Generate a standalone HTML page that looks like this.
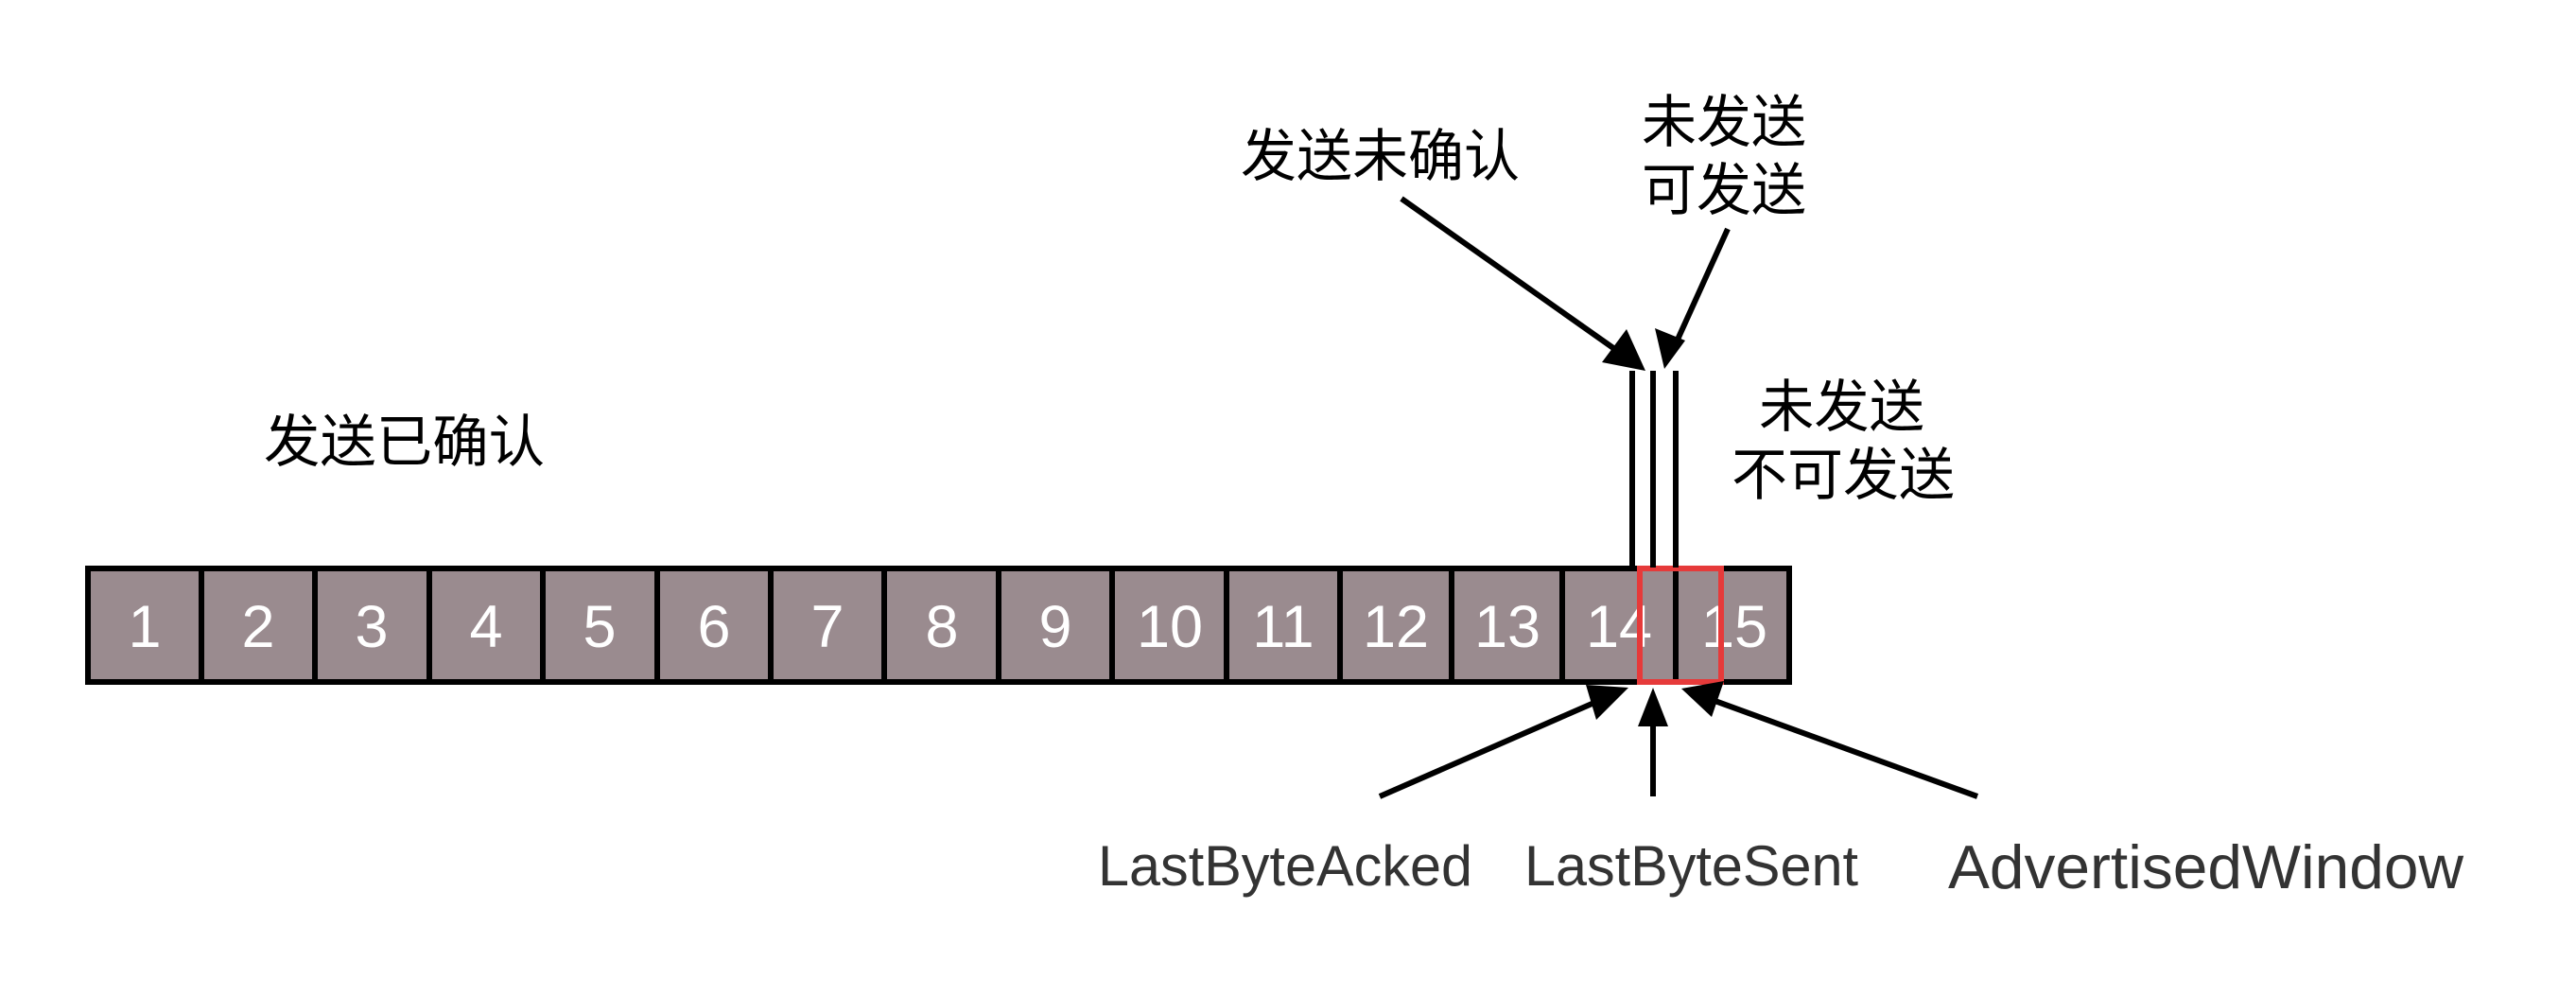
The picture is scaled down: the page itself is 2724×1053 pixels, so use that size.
<!DOCTYPE html>
<html><head><meta charset="utf-8"><style>
html,body{margin:0;padding:0;background:#fff;width:2724px;height:1053px;overflow:hidden}
svg text{font-family:"Liberation Sans","Noto Sans CJK SC",sans-serif}
</style></head><body>
<svg width="2724" height="1053" viewBox="0 0 2724 1053" xmlns="http://www.w3.org/2000/svg">
<g stroke="#000" stroke-width="6" fill="#9a8b8f">
<rect x="93" y="601" width="1799" height="120"/>
</g>
<g stroke="#000" stroke-width="6">
<line x1="213" y1="601" x2="213" y2="721"/>
<line x1="333" y1="601" x2="333" y2="721"/>
<line x1="454" y1="601" x2="454" y2="721"/>
<line x1="574" y1="601" x2="574" y2="721"/>
<line x1="695" y1="601" x2="695" y2="721"/>
<line x1="815" y1="601" x2="815" y2="721"/>
<line x1="935" y1="601" x2="935" y2="721"/>
<line x1="1056" y1="601" x2="1056" y2="721"/>
<line x1="1176" y1="601" x2="1176" y2="721"/>
<line x1="1297" y1="601" x2="1297" y2="721"/>
<line x1="1417" y1="601" x2="1417" y2="721"/>
<line x1="1535" y1="601" x2="1535" y2="721"/>
<line x1="1652" y1="601" x2="1652" y2="721"/>
<line x1="1772" y1="601" x2="1772" y2="721"/>
</g>
<g fill="#fff" font-size="63" text-anchor="middle">
<text x="153" y="684">1</text><text x="273" y="684">2</text><text x="393" y="684">3</text>
<text x="514" y="684">4</text><text x="634" y="684">5</text><text x="755" y="684">6</text>
<text x="875" y="684">7</text><text x="996" y="684">8</text><text x="1116" y="684">9</text>
<text x="1237" y="684">10</text><text x="1357" y="684">11</text><text x="1476" y="684">12</text>
<text x="1594" y="684">13</text><text x="1712" y="684">14</text><text x="1834" y="684">15</text>
</g>
<rect x="1734" y="601" width="86" height="120" fill="none" stroke="#e63a3a" stroke-width="6"/>
<g stroke="#000" stroke-width="6">
<line x1="1726" y1="392" x2="1726" y2="600"/>
<line x1="1748" y1="392" x2="1748" y2="600"/>
<line x1="1772" y1="392" x2="1772" y2="600"/>
</g>
<g stroke="#000" stroke-width="6" fill="none">
<line x1="1482" y1="210" x2="1716" y2="375"/>
<line x1="1827" y1="242" x2="1769" y2="370"/>
<line x1="1459" y1="842" x2="1704" y2="735"/>
<line x1="1748" y1="842" x2="1748" y2="748"/>
<line x1="2091" y1="842" x2="1797" y2="735"/>
</g>
<g fill="#000">
<polygon points="1740,392 1694,383 1720,348"/>
<polygon points="1760,390 1750,347 1782,360"/>
<polygon points="1722,727 1688,761 1677,724"/>
<polygon points="1748,727 1732,768 1764,768"/>
<polygon points="1778,728 1823,720 1810,758"/>
</g>
<g font-size="60" fill="#000">
<text x="279" y="488" textLength="297" lengthAdjust="spacingAndGlyphs">发送已确认</text>
<text x="1312" y="186" textLength="295" lengthAdjust="spacingAndGlyphs">发送未确认</text>
<text x="1736" y="150" textLength="174" lengthAdjust="spacingAndGlyphs">未发送</text>
<text x="1736" y="222" textLength="174" lengthAdjust="spacingAndGlyphs">可发送</text>
<text x="1860" y="451" textLength="175" lengthAdjust="spacingAndGlyphs">未发送</text>
<text x="1831" y="523" textLength="236" lengthAdjust="spacingAndGlyphs">不可发送</text>
</g>
<g fill="#333">
<text x="1161" y="936" font-size="60" textLength="396" lengthAdjust="spacingAndGlyphs">LastByteAcked</text>
<text x="1612" y="936" font-size="60" textLength="353" lengthAdjust="spacingAndGlyphs">LastByteSent</text>
<text x="2060" y="939" font-size="65" textLength="545" lengthAdjust="spacingAndGlyphs">AdvertisedWindow</text>
</g>
</svg>
</body></html>
